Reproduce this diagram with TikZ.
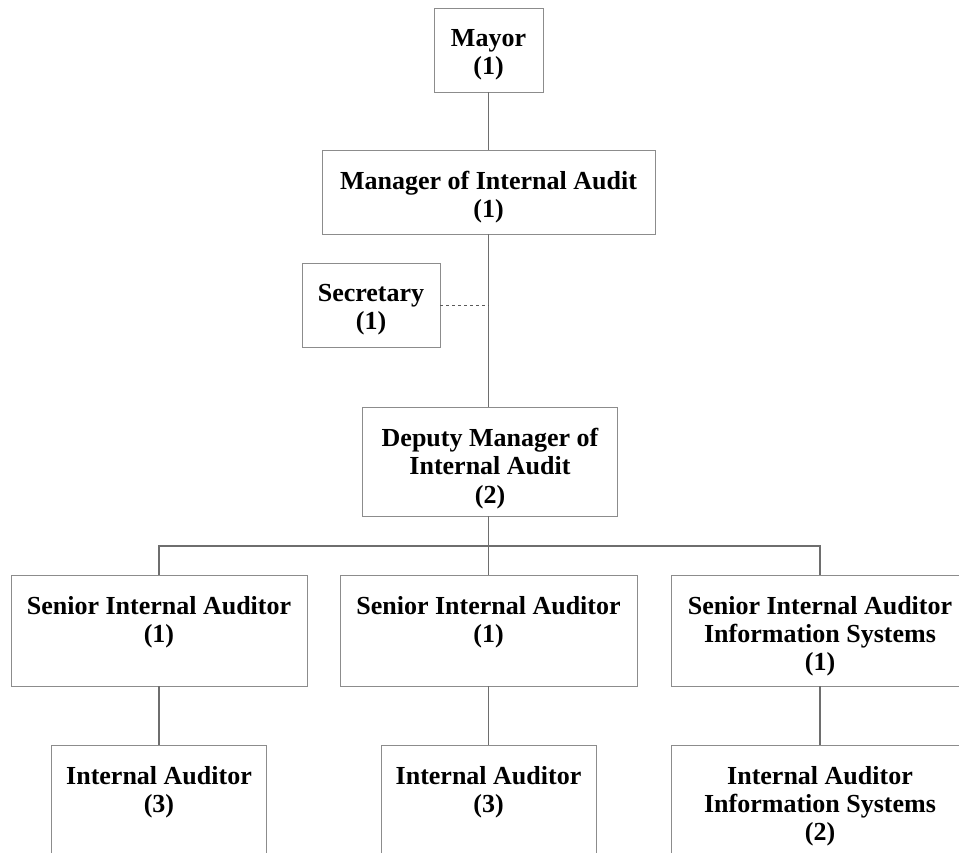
\documentclass[tikz,border=0pt]{standalone}
\usepackage{fontspec}
\setmainfont{Liberation Serif}
\begin{document}
\begin{tikzpicture}[x=1pt,y=-1pt,
  box/.style={draw={rgb,255:red,140;green,140;blue,140}, line width=1pt, inner sep=0pt, outer sep=0pt},
  lbl/.style={anchor=north, yshift=-21pt, inner sep=0pt, align=center,
    font=\fontsize{26}{28.3}\selectfont\bfseries},
  link/.style={draw={rgb,255:red,110;green,110;blue,110}, line width=1.3pt},
  aside/.style={draw={rgb,255:red,90;green,90;blue,90}, line width=0.8pt, dash pattern=on 3pt off 3pt}]
\clip (0,0) rectangle (959,852);
\fill[white] (0,0) rectangle (959,852);

% top of the hierarchy
\node[box, minimum width=109pt, minimum height=84pt, label={[lbl]north:Mayor\\(1)}] (mayor) at (488.5,50) {};
\node[box, minimum width=333pt, minimum height=84pt, label={[lbl]north:Manager of Internal Audit\\(1)}] (mgr) at (488.5,192) {};
\node[box, minimum width=138pt, minimum height=84pt, label={[lbl]north:Secretary\\(1)}] (sec) at (371,305) {};
\node[box, minimum width=255pt, minimum height=109pt, label={[lbl]north:Deputy Manager of\\Internal Audit\\(2)}] (dep) at (490,461.5) {};

% senior auditors
\node[box, minimum width=296pt, minimum height=111pt, label={[lbl]north:Senior Internal Auditor\\(1)}] (s1) at (159,630.5) {};
\node[box, minimum width=297pt, minimum height=111pt, label={[lbl]north:Senior Internal Auditor\\(1)}] (s2) at (488.5,630.5) {};
\node[box, minimum width=297pt, minimum height=111pt, label={[lbl]north:Senior Internal Auditor\\Information Systems\\(1)}] (s3) at (820,630.5) {};

% internal auditors
\node[box, minimum width=215pt, minimum height=130pt, label={[lbl]north:Internal Auditor\\(3)}] (a1) at (159,810) {};
\node[box, minimum width=215pt, minimum height=130pt, label={[lbl]north:Internal Auditor\\(3)}] (a2) at (488.5,810) {};
\node[box, minimum width=298pt, minimum height=130pt, label={[lbl]north:Internal Auditor\\Information Systems\\(2)}] (a3) at (820,810) {};

% reporting lines
\draw[link] (mayor.south) -- (mgr.north);
\draw[link] (mgr.south) -- (mgr.south |- dep.north);
\draw[aside] (sec.east) -- (sec.east -| mgr.south);
\draw[link] (mgr.south |- dep.south) -- (s2.north);
\draw[link] (s1.north) -- ++(0,-29) -| (s3.north);
\draw[link] (s1.south) -- (a1.north);
\draw[link] (s2.south) -- (a2.north);
\draw[link] (s3.south) -- (a3.north);
\end{tikzpicture}
\end{document}
